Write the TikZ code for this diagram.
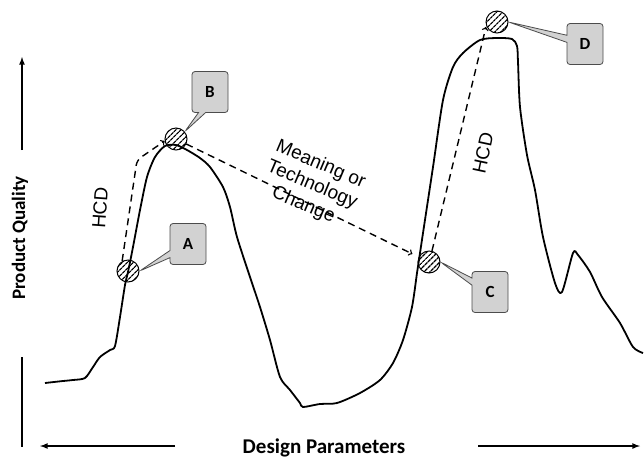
\documentclass[tikz,border=0pt]{standalone}
\usepackage{fontspec}
\setmainfont{Liberation Sans}
\newfontfamily\calibri{Carlito}
\usetikzlibrary{arrows,patterns.meta,shapes.callouts}

\begin{document}
\begin{tikzpicture}[x=1pt, y=-1pt,
    curve/.style = {line width=1.8pt, line join=round},% the quality landscape
     spot/.style = {circle, draw, line width=1pt, minimum size=22pt, inner sep=0pt,
                    pattern={Lines[angle=45, distance=4pt, line width=1.4pt]}},
     move/.style = {line width=1.4pt, dash pattern=on 7pt off 5pt, ->, >=to},
      tag/.style = {rectangle callout, draw=gray!60!black, fill=gray!35, line width=0.8pt,
                    rounded corners=3pt, minimum width=36pt, minimum height=41pt,
                    font=\calibri\bfseries\fontsize{17}{20}\selectfont},
     axis/.style = {line width=1.6pt, >=latex},
    title/.style = {font=\calibri\bfseries\fontsize{19}{22}\selectfont},
     note/.style = {font=\fontsize{19}{22}\selectfont, align=center},
                        ]
\useasboundingbox (0,0) rectangle (644,459);
% landscape
\draw[curve] plot[smooth, tension=0.45] coordinates {
    (45,383) (63,381) (73,380) (85,378) (93,367) (100,357) (110,350) (115,346)
    (120,317) (125,285) (128,272) (133,247) (140,210) (147,177) (155,157) (165,146)
    (176,145) (187,150) (200,158) (210,167) (223,187) (230,207) (237,237) (250,277)
    (260,307) (270,340) (280,377) (290,390) (300,403) (303,407) (320,404) (337,403)
    (360,393) (380,380) (393,363) (403,340) (412,307) (417,273) (420,253) (423,233)
    (433,167) (443,100) (453,67) (463,53) (480,40) (497,38) (512,39) (517,46)
    (518,62) (520,107) (527,155) (535,190) (543,237) (555,283) (562,292) (573,253)
    (578,255) (590,272) (602,297) (620,323) (633,347) (643,353)};
% points on the landscape
\node[spot] (pA) at (128,271) {};
\node[spot] (pB) at (176,139) {};
\node[spot] (pC) at (429,262) {};
\node[spot] (pD) at (497,22) {};
% callouts
\node[tag, callout absolute pointer={(pA.east)}] (tA) at (188,244) {A};
\node[tag, callout absolute pointer={(pB.40)}]   (tB) at (210,92)  {B};
\node[tag, callout absolute pointer={(pC.east)}] (tC) at (490,292) {C};
\node[tag, callout absolute pointer={(pD.east)}] (tD) at (585,44)  {D};
% moves
\coordinate (bend) at (137,160);
\draw[move, rounded corners=5pt] (pA.120) -- (bend) -- (pB.190);
\draw[move, shorten >=7pt] (pB) -- (pC);
\draw[move, shorten >=1pt] (pC.75) -- (pD.200);
\node[note, rotate=86] (hcdAB) at (100,208) {HCD};
\node[note, rotate=78] (hcdCD) at (483,153) {HCD};
\node[note, rotate=-23] (change) at (312,185) {Meaning or\\Technology\\Change};
% axes
\node[title, rotate=90] (quality) at (20,238) {Product Quality};
\node[title, font=\calibri\bfseries\fontsize{21}{24}\selectfont] (params) at (324,448) {Design Parameters};
\coordinate (qtop) at (22,57);
\coordinate (qup)  at (22,150);
\coordinate (qlow) at (22,357);
\coordinate (qbot) at (22,447);
\coordinate (pleft)  at (40,446);
\coordinate (pl)     at (175,446);
\coordinate (pr)     at (478,446);
\coordinate (pright) at (640,446);
\draw[axis, ->] (qup) -- (qtop);
\draw[axis] (qlow) -- (qbot);
\draw[axis, ->] (pl) -- (pleft);
\draw[axis, ->] (pr) -- (pright);
\end{tikzpicture}
\end{document}
